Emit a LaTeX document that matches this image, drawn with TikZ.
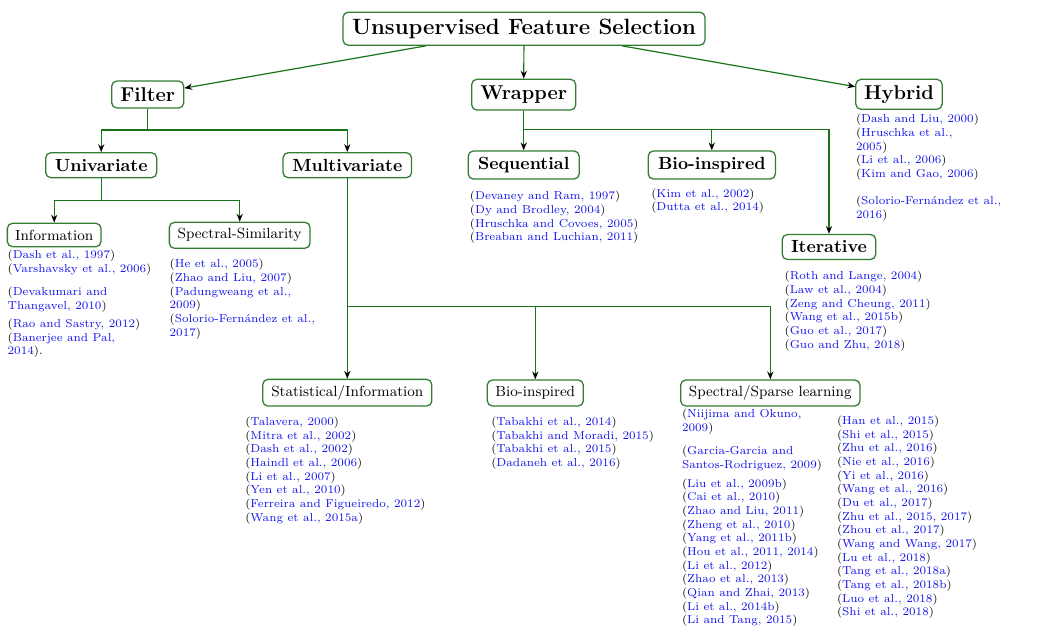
\documentclass[tikz,border=0pt]{standalone}
\usetikzlibrary{arrows.meta}
\definecolor{lngreen}{RGB}{25,115,25}
\definecolor{bxgreen}{RGB}{50,125,50}
\definecolor{citeblue}{RGB}{20,20,235}
\newcommand{\cb}[1]{\textcolor{citeblue}{#1}}
\newcommand{\ci}[1]{(\cb{#1})}
\begin{document}
\begin{tikzpicture}[x=0.585pt,y=-0.585pt,
  box/.style={draw=bxgreen, line width=0.75pt, rounded corners=3pt, fill=white, inner sep=0pt, align=center},
  rootbox/.style={box, font=\fontsize{12.95}{15}\selectfont\bfseries},
  lvtwo/.style={box, font=\fontsize{11.7}{13}\selectfont\bfseries},
  lvthree/.style={box, font=\fontsize{10.3}{12}\selectfont\bfseries},
  lvfour/.style={box, font=\fontsize{8.6}{10.5}\selectfont},
  cites/.style={anchor=north west, inner sep=0pt, align=left, font=\fontsize{6.75}{8}\selectfont},
  ln/.style={draw=lngreen, line width=0.7pt},
  arr/.style={ln, -{Stealth[black,length=4.6pt,width=3.6pt]}},
]
\useasboundingbox (0,0) rectangle (1048,631);

% boxes
\node[rootbox, minimum width=211.8pt, minimum height=19.3pt] (root) at (524,28.7) {Unsupervised Feature Selection};
\node[lvtwo, minimum width=42.1pt, minimum height=15.8pt] (filter) at (147.7,94.5) {Filter};
\node[lvtwo, minimum width=60.8pt, minimum height=18pt] (wrapper) at (523.7,94.7) {Wrapper};
\node[lvtwo, minimum width=50.5pt, minimum height=17.5pt] (hybrid) at (899,94.3) {Hybrid};
\node[lvthree, minimum width=64.9pt, minimum height=14.6pt] (univ) at (101.2,165.2) {Univariate};
\node[lvthree, minimum width=75.2pt, minimum height=14.6pt] (multi) at (347.3,165.2) {Multivariate};
\node[lvthree, minimum width=64.9pt, minimum height=16.4pt] (seq) at (523.7,165) {Sequential};
\node[lvthree, minimum width=74.4pt, minimum height=16.4pt] (biow) at (711.8,165) {Bio-inspired};
\node[lvthree, minimum width=54.7pt, minimum height=14.6pt] (iter) at (829,247) {Iterative};
\node[lvfour, minimum width=54.8pt, minimum height=13.7pt] (info) at (54.2,235) {Information};
\node[lvfour, minimum width=82.3pt, minimum height=15.2pt] (specsim) at (239.7,235.3) {Spectral-Similarity};
\node[lvfour, minimum width=98.9pt, minimum height=15.6pt] (stat) at (347.3,392.7) {Statistical/Information};
\node[lvfour, minimum width=56.2pt, minimum height=15.2pt] (biom) at (535.3,393) {Bio-inspired};
\node[lvfour, minimum width=104.9pt, minimum height=15.2pt] (sparse) at (770.3,393) {Spectral/Sparse learning};

% connectors
\draw[arr] (root) -- (filter);
\draw[arr] (root) -- (wrapper);
\draw[arr] (root) -- (hybrid);

\coordinate (fj) at (147.7,130);
\draw[ln] (filter.south) -- (fj);
\draw[arr] (fj) -| (univ.north);
\draw[arr] (fj) -| (multi.north);

\coordinate (uj) at (101.2,200.7);
\draw[ln] (univ.south) -- (uj);
\draw[arr] (uj) -| (info.north);
\draw[arr] (uj) -| (specsim.north);

\coordinate (wj) at (523.7,129.3);
\draw[ln] (wrapper.south) -- (wj);
\draw[arr] (wj) -- (seq.north);
\draw[arr] (wj) -| (biow.north);
\draw[arr] (wj) -| (iter.north);

\coordinate (mj) at (347.3,306.7);
\draw[ln] (multi.south) -- (mj);
\draw[arr] (mj) -- (stat.north);
\draw[arr] (mj) -| (biom.north);
\draw[arr] (mj) -| (sparse.north);

% citations
\node[cites] (cinfo) at (7.3,249.8) {\ci{Dash et al., 1997}\\ \ci{Varshavsky et al., 2006}\\[5.6pt] (\cb{Devakumari and}\\ \cb{Thangavel, 2010})\\[2.5pt] \ci{Rao and Sastry, 2012}\\ (\cb{Banerjee and Pal,}\\ \cb{2014}).};

\node[cites] (cspec) at (169.3,258.8) {\ci{He et al., 2005}\\ \ci{Zhao and Liu, 2007}\\ (\cb{Padungweang et al.,}\\ \cb{2009})\\ (\cb{Solorio-Fernández et al.,}\\ \cb{2017})};

\node[cites] (cseq) at (469.6,190.8) {\ci{Devaney and Ram, 1997}\\ \ci{Dy and Brodley, 2004}\\ \ci{Hruschka and Covoes, 2005}\\ \ci{Breaban and Luchian, 2011}};

\node[cites] (cbiow) at (651,188.1) {\ci{Kim et al., 2002}\\ \ci{Dutta et al., 2014}};

\node[cites] (chyb) at (855.7,113.8) {\ci{Dash and Liu, 2000}\\ (\cb{Hruschka et al.,}\\ \cb{2005})\\ \ci{Li et al., 2006}\\ \ci{Kim and Gao, 2006}\\[8pt] (\cb{Solorio-Fernández et al.,}\\ \cb{2016})};

\node[cites] (citer) at (784.3,270.8) {\ci{Roth and Lange, 2004}\\ \ci{Law et al., 2004}\\ \ci{Zeng and Cheung, 2011}\\ \ci{Wang et al., 2015b}\\ \ci{Guo et al., 2017}\\ \ci{Guo and Zhu, 2018}};

\node[cites] (cstat) at (245,416.5) {\ci{Talavera, 2000}\\ \ci{Mitra et al., 2002}\\ \ci{Dash et al., 2002}\\ \ci{Haindl et al., 2006}\\ \ci{Li et al., 2007}\\ \ci{Yen et al., 2010}\\ \ci{Ferreira and Figueiredo, 2012}\\ \ci{Wang et al., 2015a}};

\node[cites] (cbiom) at (491,416.5) {\ci{Tabakhi et al., 2014}\\ \ci{Tabakhi and Moradi, 2015}\\ \ci{Tabakhi et al., 2015}\\ \ci{Dadaneh et al., 2016}};

\node[cites] (csparsea) at (681.7,408.8) {(\cb{Niijima and Okuno,}\\ \cb{2009})\\[5.7pt] (\cb{Garcia-Garcia and}\\ \cb{Santos-Rodriguez, 2009})\\[2.9pt] \ci{Liu et al., 2009b}\\ \ci{Cai et al., 2010}\\ \ci{Zhao and Liu, 2011}\\ \ci{Zheng et al., 2010}\\ \ci{Yang et al., 2011b}\\ \ci{Hou et al., 2011, 2014}\\ \ci{Li et al., 2012}\\ \ci{Zhao et al., 2013}\\ \ci{Qian and Zhai, 2013}\\ \ci{Li et al., 2014b}\\ \ci{Li and Tang, 2015}};

\node[cites] (csparseb) at (836.7,415.5) {\ci{Han et al., 2015}\\ \ci{Shi et al., 2015}\\ \ci{Zhu et al., 2016}\\ \ci{Nie et al., 2016}\\ \ci{Yi et al., 2016}\\ \ci{Wang et al., 2016}\\ \ci{Du et al., 2017}\\ \ci{Zhu et al., 2015, 2017}\\ \ci{Zhou et al., 2017}\\ \ci{Wang and Wang, 2017}\\ \ci{Lu et al., 2018}\\ \ci{Tang et al., 2018a}\\ \ci{Tang et al., 2018b}\\ \ci{Luo et al., 2018}\\ \ci{Shi et al., 2018}};
\end{tikzpicture}
\end{document}
